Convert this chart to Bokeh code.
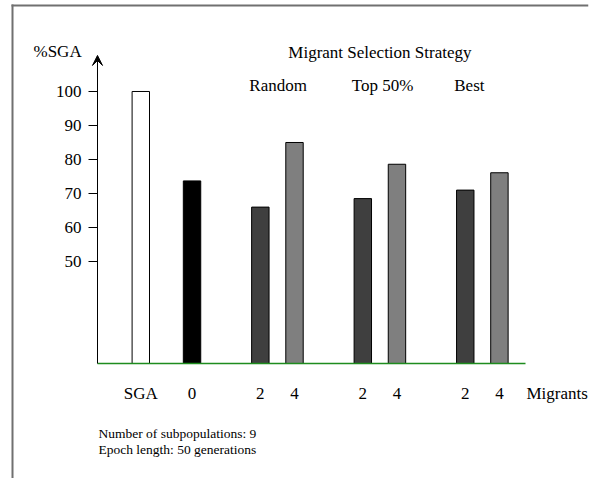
from bokeh.plotting import figure
from bokeh.models import (FactorRange, Range1d, FixedTicker, Label, Arrow, VeeHead,
                          ColumnDataSource, BoxAnnotation)
from bokeh.core.properties import value
from bokeh.embed import file_html
from bokeh.resources import INLINE

# ---- data -------------------------------------------------------------
families = ["SGA", "GA", "GA", "GA", "GA", "GA", "GA", "GA"]
strategies = ["SGA", "none", "Random", "Random", "Top 50%", "Top 50%", "Best", "Best"]
migrants = ["SGA", "0", "2", "4", "2", "4", "2", "4"]
pct_sga = [100, 73.7, 66.0, 85.0, 68.5, 78.6, 71.0, 76.1]
y_ticks = [50, 60, 70, 80, 90, 100]
strategy_labels = ["Random", "Top 50%", "Best"]
header = "Migrant Selection Strategy"
y_title = "%SGA"
x_title = "Migrants"
notes = ["Number of subpopulations: 9", "Epoch length: 50 generations"]
baseline = 20

# ---- layout / styling ---------------------------------------------------
SERIF = "Liberation Serif"
PAD = 2.108                  # x padding, synthetic units
Y_VIEW = (-13.82, 126.76)
AXIS_X = 0.732
AXIS_END = 13.263
RULE = "#707070"
fill_for = {"SGA": "white", "0": "black", "2": "#3f3f3f", "4": "#7f7f7f"}

factors = list(zip(families, strategies, migrants))
spacer = [("pad", "pad", "")]          # empty slot left of the SGA bar
src = ColumnDataSource(dict(x=factors, top=pct_sga,
                            fill=[fill_for[m] for m in migrants]))

xr = FactorRange(*(spacer + factors), factor_padding=0.0, subgroup_padding=1.0,
                 group_padding=0.5, range_padding=PAD, range_padding_units="absolute")

p = figure(width=596, height=478, output_backend="svg", toolbar_location=None,
           x_range=xr, y_range=Range1d(*Y_VIEW),
           min_border_left=0, min_border_right=8, min_border_top=0,
           min_border_bottom=0)
p.outline_line_color = None
p.xgrid.grid_line_color = None
p.ygrid.grid_line_color = None
p.background_fill_color = "white"
p.border_fill_color = "white"

# page frame: thin filled strips on the left and top (others run off the page)
p.add_layout(BoxAnnotation(left=11, left_units="screen", right=13, right_units="screen",
                           top=125.59, fill_color=RULE, fill_alpha=1, line_alpha=0))
p.add_layout(BoxAnnotation(left=11, left_units="screen", top=125.59, bottom=125.0,
                           fill_color=RULE, fill_alpha=1, line_alpha=0))

p.vbar(x="x", top="top", bottom=baseline, width=0.51, fill_color="fill",
       line_color="black", line_width=1, source=src)

# y axis
yax = p.yaxis[0]
yax.fixed_location = AXIS_X
yax.ticker = FixedTicker(ticks=y_ticks)
yax.bounds = (baseline, 106)
yax.major_tick_out = 9
yax.major_tick_in = 0
yax.minor_tick_line_color = None
yax.major_label_standoff = 7
yax.major_label_text_font = SERIF
yax.major_label_text_font_size = "17px"
yax.major_label_text_color = "black"
yax.axis_line_color = "black"
yax.major_tick_line_color = "black"

p.add_layout(Arrow(x_start=AXIS_X, y_start=104, x_end=AXIS_X, y_end=110.6,
                   line_color="black", line_width=1,
                   end=VeeHead(size=10, fill_color="black", line_color="black")))

# x axis
xax = p.xaxis[0]
xax.fixed_location = baseline
xax.axis_line_color = "#1e8c1e"
xax.axis_line_width = 1.5
xax.bounds = (AXIS_X, AXIS_END)
xax.major_tick_line_color = None
xax.minor_tick_line_color = None
xax.major_label_standoff = 14
xax.major_label_text_font = SERIF
xax.major_label_text_font_size = "17px"
xax.major_label_text_color = "black"
xax.group_text_alpha = 0
xax.subgroup_text_alpha = 0
xax.separator_line_color = None

# strategy texts
p.text(x=[("GA", s, "2") for s in strategy_labels], y=[101.76] * len(strategy_labels),
       text=strategy_labels, text_font=value(SERIF), text_font_size="17px",
       text_align="left", text_baseline="middle", x_offset=-11, text_color="black")
p.text(x=[("GA", "Top 50%")], y=[111.56], text=[header], text_font=value(SERIF),
       text_font_size="17px", text_align="center", text_baseline="middle",
       text_color="black")

def lab(txt, sx, y, size):
    p.add_layout(Label(x=sx, y=y, x_units="screen", y_units="data", text=txt,
                       text_font=SERIF, text_font_size=size, text_align="left",
                       text_baseline="middle", text_color="black"))

lab(y_title, 33, 111.62, "17px")
lab(x_title, 526, 11.18, "17px")
lab(notes[0], 98, -0.59, "13.5px")
lab(notes[1], 98, -5.29, "13.5px")

open("out.html", "w").write(file_html(p, INLINE))
